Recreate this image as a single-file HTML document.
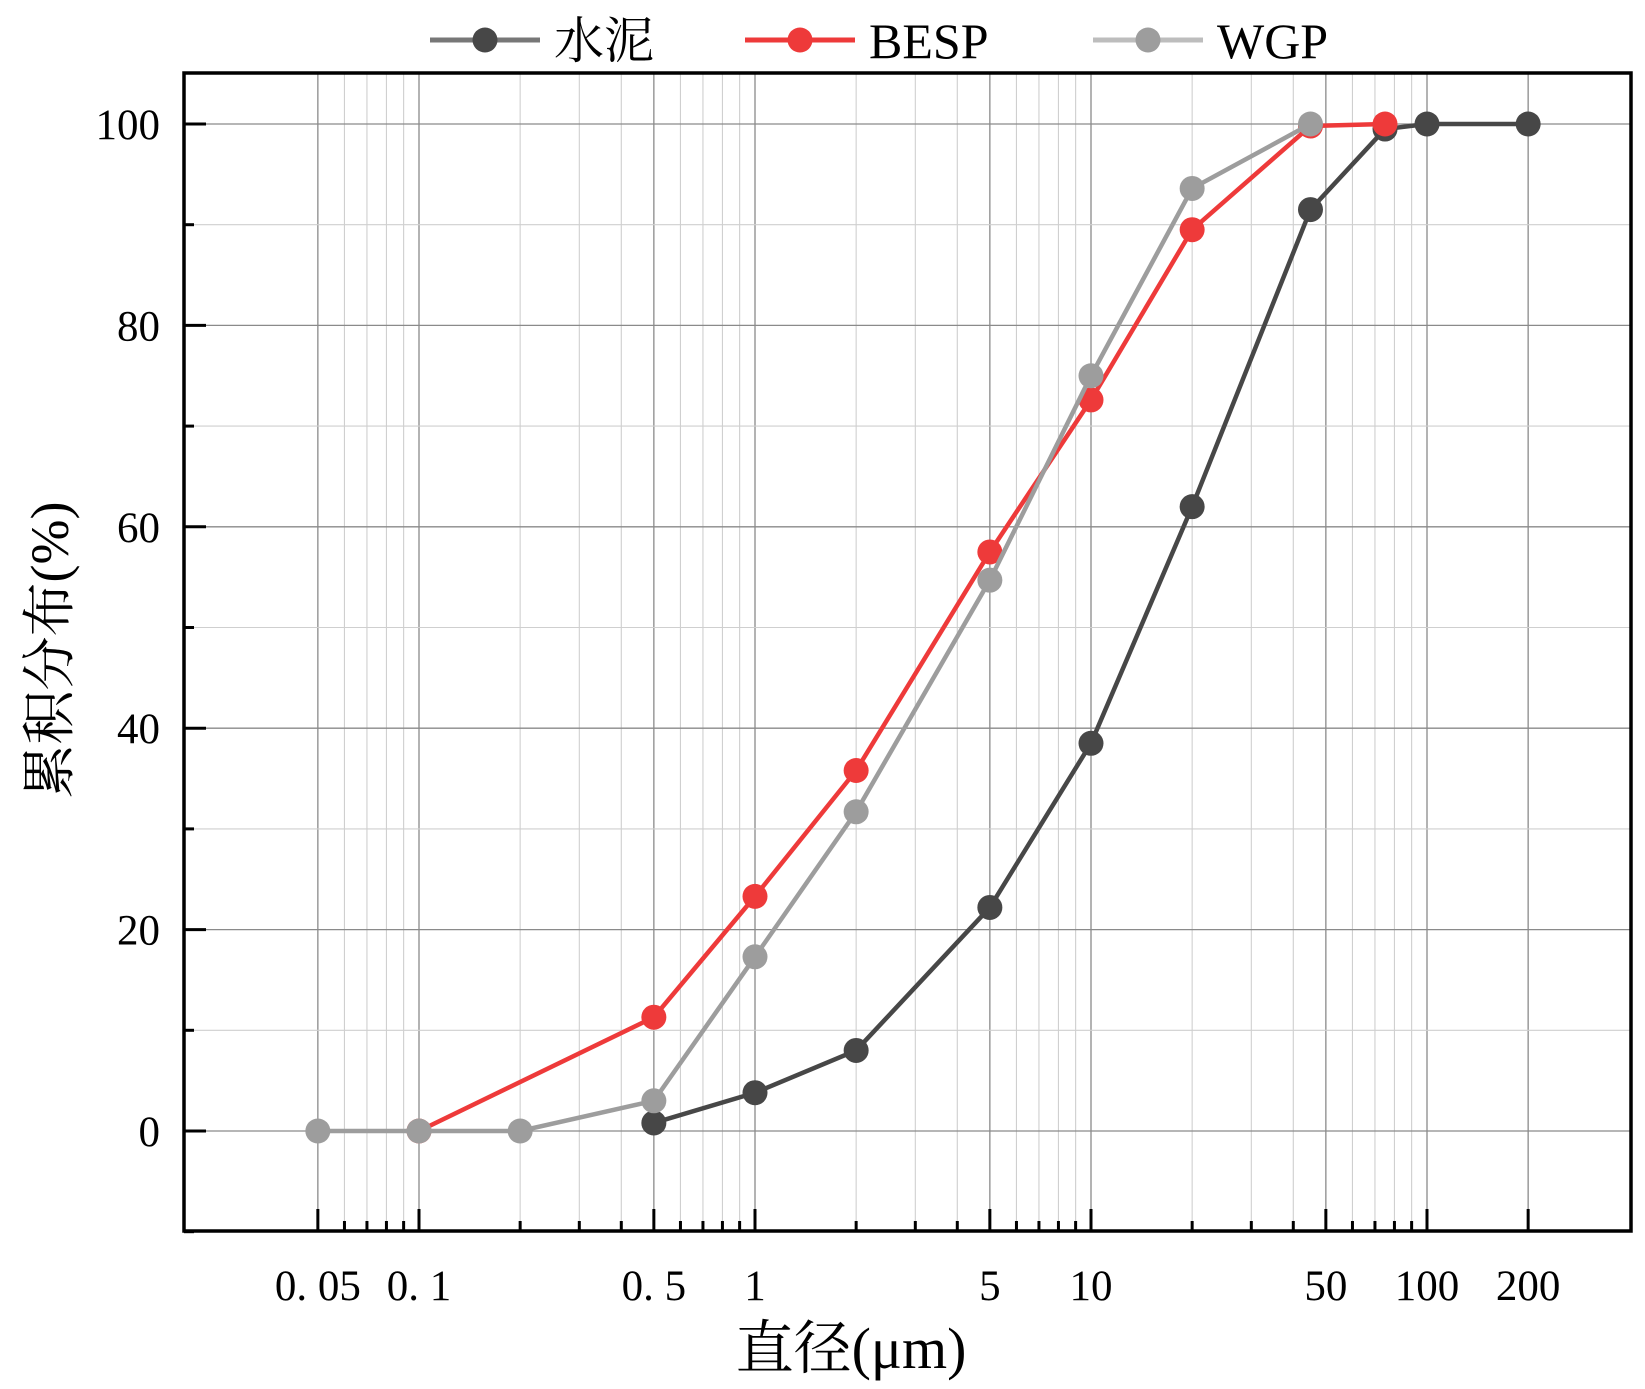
<!DOCTYPE html>
<html><head><meta charset="utf-8"><style>
html,body{margin:0;padding:0;background:#fff;}
svg{display:block;font-family:"Liberation Serif","Noto Serif CJK SC",serif;}
</style></head><body>
<svg id="chart" width="1645" height="1389" viewBox="0 0 1645 1389">
<g id="grid"></g>
<g id="series"></g>
<g id="axes"></g>
<g id="legend"></g>
<text x="851" y="1368" font-size="58" text-anchor="middle">直径(μm)</text>
<text transform="translate(68,650) rotate(-90)" font-size="54" text-anchor="middle">累积分布(%)</text>
</svg>
<script>
const cementX = [0.5, 1, 2, 5, 10, 20, 45, 75, 100, 200];
const cementY = [0.8, 3.8, 8, 22.2, 38.5, 62, 91.5, 99.5, 100, 100];
const bespX = [0.1, 0.5, 1, 2, 5, 10, 20, 45, 75];
const bespY = [0, 11.3, 23.3, 35.8, 57.5, 72.6, 89.5, 99.8, 100];
const wgpX = [0.05, 0.1, 0.2, 0.5, 1, 2, 5, 10, 20, 45];
const wgpY = [0, 0, 0, 3, 17.3, 31.7, 54.7, 75, 93.6, 100];
const xTickVals = [0.05, 0.1, 0.5, 1, 5, 10, 50, 100, 200];
const xTickLabels = ["0. 05", "0. 1", "0. 5", "1", "5", "10", "50", "100", "200"];
const yTickVals = [0, 20, 40, 60, 80, 100];
const seriesNames = ["水泥", "BESP", "WGP"];

const NS = "http://www.w3.org/2000/svg";
const L = 184, R = 1631, T = 73, B = 1231;
const X0 = 419, DEC = 336;
function sx(v){ return X0 + (Math.log10(v) + 1) * DEC; }
const Y0 = 1131, YS = 10.07;
function sy(v){ return Y0 - v * YS; }
function mk(tag, attrs, parent){ const e = document.createElementNS(NS, tag); for (const k in attrs) e.setAttribute(k, attrs[k]); parent.appendChild(e); return e; }

const grid = document.getElementById('grid');
const axes = document.getElementById('axes');
const minorVals = [];
for (let d = -2; d <= 2; d++) for (let m = 1; m <= 9; m++) { const v = m * Math.pow(10, d); if (v >= 0.05 - 1e-9 && v <= 200 + 1e-9) minorVals.push(v); }
minorVals.forEach(v => {
  const major = xTickVals.some(t => Math.abs(t - v) < 1e-9);
  const x = sx(v);
  const g = mk('line', {x1:x, x2:x, y1:T, y2:B, stroke: major ? '#8a8a8a' : '#cfcfcf', 'stroke-width': major ? 1.3 : 1.1}, grid);
  
  
  const t = mk('line', {x1:x, x2:x, y1:B, y2:B - (major ? 22 : 10), stroke:'#000', 'stroke-width':3}, axes);
  
  
});
for (let v = -10; v <= 100; v += 10) {
  const y = sy(v);
  if (v >= 0) {
    const major = v % 20 === 0;
    const g = mk('line', {x1:L, x2:R, y1:y, y2:y, stroke: major ? '#8a8a8a' : '#cfcfcf', 'stroke-width': major ? 1.3 : 1.1}, grid);
    
    
  }
  const major = v % 20 === 0;
  const t = mk('line', {x1:L, x2:L + (major ? 22 : 10), y1:y, y2:y, stroke:'#000', 'stroke-width':3}, axes);
  
  
}
const fr = mk('rect', {x:L, y:T, width:R-L, height:B-T, fill:'none', stroke:'#000', 'stroke-width':3.5}, axes);


xTickVals.forEach((v, i) => {
  const t = mk('text', {x:sx(v), y:1300, 'font-size':43, 'text-anchor':'middle'}, axes);
  t.textContent = xTickLabels[i];
  
  
});
yTickVals.forEach(v => {
  const t = mk('text', {x:160, y:sy(v) + 15, 'font-size':43, 'text-anchor':'end'}, axes);
  t.textContent = String(v);
  
  
});
const ser = document.getElementById('series');
const order = [[cementX, cementY, '#474747', 'cement'], [bespX, bespY, '#ee3a3a', 'besp'], [wgpX, wgpY, '#9d9d9d', 'wgp']];
order.forEach(([xs, ys, c, n]) => {
  const g = mk('g', {}, ser);
  
  
  const p = mk('polyline', {points: xs.map((x, i) => sx(x) + ',' + sy(ys[i])).join(' '), fill:'none', stroke:c, 'stroke-width':4.5}, g);
  
  
  xs.forEach((x, i) => {
    const m = mk('circle', {cx:sx(x), cy:sy(ys[i]), r:12.5, fill:c}, g);
    
    
  });
});
const lg = document.getElementById('legend');
const legColors = ['#474747', '#ee3a3a', '#9d9d9d'];
const legLineColors = ['#777777', '#ee3a3a', '#bdbdbd'];
const legX = [430, 745, 1093];
seriesNames.forEach((nm, i) => {
  const g = mk('g', {}, lg);
  
  
  mk('line', {x1:legX[i], x2:legX[i] + 110, y1:40, y2:40, stroke:legLineColors[i], 'stroke-width':5}, g);
  mk('circle', {cx:legX[i] + 55, cy:40, r:12.5, fill:legColors[i]}, g);
  const t = mk('text', {x:legX[i] + 124, y:58, 'font-size':50}, g);
  t.textContent = nm;
});
</script>
</body></html>
